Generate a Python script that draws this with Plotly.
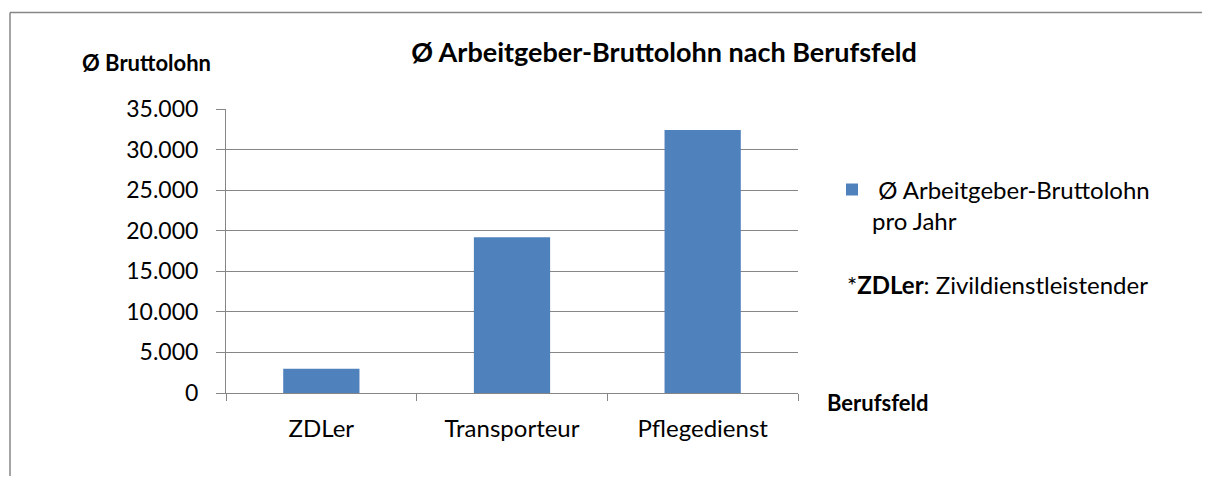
import plotly.graph_objects as go

categories = ["ZDLer", "Transporteur", "Pflegedienst"]
values = [3000, 19200, 32400]
series_name = " Ø Arbeitgeber-Bruttolohn<br>pro Jahr"
y_ticks = [0, 5000, 10000, 15000, 20000, 25000, 30000, 35000]

FONT = "Lato"
GRID = "#868686"

# page offset (browser body margin)
OFF = 8
W, H = 1210 - OFF, 484 - 2 * OFF
# plot area in figure pixels (target-screen pixels minus offset)
L, R, T, B = 226 - OFF, 798 - OFF, 108.5 - OFF, 392.7 - OFF

def px_x(p):
    return (p - OFF - L) / (R - L)

def px_y(p):
    return (B - (p - OFF)) / (B - T)

fig = go.Figure()
fig.add_trace(go.Bar(
    x=categories, y=values, name=series_name,
    marker=dict(color="#4F81BD", line=dict(width=0)),
    showlegend=True,
))

fig.update_layout(
    width=W, height=H,
    margin=dict(l=L, r=W - R, t=T, b=H - B, autoexpand=False),
    paper_bgcolor="white", plot_bgcolor="white",
    separators=",.",
    bargap=0.6,
    font=dict(family=FONT, color="black", size=20),
    showlegend=True,
    legend=dict(
        x=px_x(832), y=px_y(167), xanchor="left", yanchor="top",
        font=dict(family=FONT, size=24, color="black"),
        bgcolor="rgba(0,0,0,0)", valign="top",
    ),
    title=dict(
        text="<b>Ø Arbeitgeber-Bruttolohn nach Berufsfeld</b>",
        x=px_x(664), xref="paper", xanchor="center",
        y=1 - (53 - OFF) / H, yanchor="middle",
        font=dict(family=FONT, size=27, color="black"),
    ),
)

fig.update_yaxes(
    range=[0, 35000], tickvals=y_ticks, tickformat=",d",
    showgrid=True, gridcolor=GRID, gridwidth=1,
    showline=True, linecolor=GRID, linewidth=1,
    ticks="outside", ticklen=9, tickcolor=GRID,
    ticklabelstandoff=13,
    tickfont=dict(family=FONT, size=23, color="black"),
    zeroline=False,
)
fig.update_xaxes(
    showline=True, linecolor=GRID, linewidth=1,
    ticks="outside", ticklen=7, tickcolor=GRID,
    tickson="boundaries",
    tickfont=dict(family=FONT, size=24, color="black"),
    ticklabelstandoff=14,
    showgrid=False,
)

# outer chart frame (top and left edges; right/bottom lie outside the view)
frame = dict(color="#868686", width=1.5)
fig.add_shape(type="line", xref="paper", yref="paper",
              x0=px_x(10), x1=px_x(1260), y0=px_y(12), y1=px_y(12), line=frame)
fig.add_shape(type="line", xref="paper", yref="paper",
              x0=px_x(10), x1=px_x(10), y0=px_y(12), y1=px_y(540), line=frame)

fig.add_annotation(text="<b>Ø Bruttolohn</b>", xref="paper", yref="paper",
                   x=px_x(146), y=px_y(62), xanchor="center", yanchor="middle",
                   showarrow=False, font=dict(family=FONT, size=22, color="black"))
fig.add_annotation(text="<b>Berufsfeld</b>", xref="paper", yref="paper",
                   x=px_x(878), y=px_y(402), xanchor="center", yanchor="middle",
                   showarrow=False, font=dict(family=FONT, size=22, color="black"))
fig.add_annotation(text="*<b>ZDLer</b>: Zivildienstleistender", xref="paper", yref="paper",
                   x=px_x(845), y=px_y(284), xanchor="left", yanchor="middle",
                   showarrow=False, font=dict(family=FONT, size=24, color="black"))

fig.write_html("out.html", config={"displayModeBar": False})
